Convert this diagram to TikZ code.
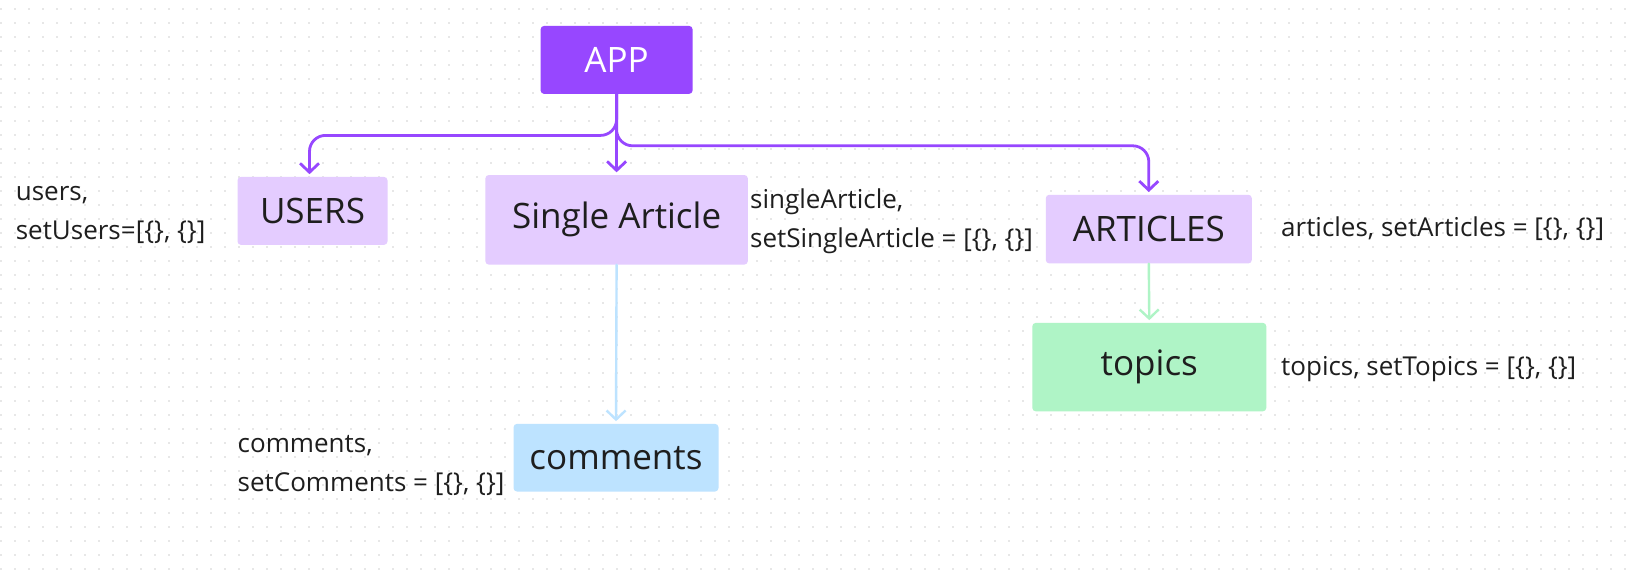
\documentclass[tikz,border=0pt]{standalone}
\usepackage{fontspec}
\setmainfont{Open Sans}
\usetikzlibrary{arrows.meta}
\definecolor{appc}{HTML}{9747FF}
\definecolor{lpurp}{HTML}{E4CCFF}
\definecolor{lgreen}{HTML}{AFF4C6}
\definecolor{lblue}{HTML}{BDE3FF}
\definecolor{txt}{HTML}{1E1E1E}
\definecolor{dotc}{HTML}{CFCFCF}
\begin{document}
\begin{tikzpicture}[x=1pt,y=-1pt,
  box/.style={rounded corners=3.5pt, inner sep=0pt, text=txt, font=\fontsize{35}{38}\selectfont},
  lbl/.style={anchor=west, text=txt, font=\fontsize{26}{39}\selectfont, align=left, inner sep=0pt},
  conn/.style={line width=2.8pt, line cap=round, line join=round, shorten >=2.5pt, -{Straight Barb[length=9pt,width=19pt]}}
]
\useasboundingbox (0,0) rectangle (1633,571);
\fill[white] (0,0) rectangle (1633,571);
\foreach \i in {0,...,116} {\foreach \j in {0,...,40} {\fill[dotc] (1+14*\i, 9+14*\j) circle (0.8);}}

\node[box, fill=appc, text=white, minimum width=152pt, minimum height=68pt] (app) at (616.6,59.9) {APP};
\node[box, fill=lpurp, minimum width=150pt, minimum height=68pt] (users) at (312.5,210.9) {USERS};
\node[box, fill=lpurp, minimum width=262.5pt, minimum height=89.6pt] (single) at (616.6,219.8) {Single Article};
\node[box, fill=lpurp, minimum width=206pt, minimum height=68.7pt] (articles) at (1148.8,229.1) {ARTICLES};
\node[box, fill=lgreen, minimum width=234pt, minimum height=88.5pt] (topics) at (1149.3,367.1) {topics};
\node[box, fill=lblue, minimum width=205pt, minimum height=67.7pt] (comments) at (616,457.7) {comments};

\node[lbl] (usersl) at (15.6,214.5) {users,\\setUsers=[\{\}, \{\}]};
\node[lbl] (singlel) at (750,220.8) {singleArticle,\\setSingleArticle = [\{\}, \{\}]};
\node[lbl] (articlesl) at (1281,229.1) {articles, setArticles = [\{\}, \{\}]};
\node[lbl] (topicsl) at (1281,368.7) {topics, setTopics = [\{\}, \{\}]};
\node[lbl] (commentsl) at (237.5,465.5) {comments,\\setComments = [\{\}, \{\}]};

\draw[conn, draw=appc, rounded corners=16pt] (app.south) -- (app.south |- 0,135.4) -| ([xshift=-3pt]users.north);
\draw[conn, draw=appc, rounded corners=16pt] (app.south) -- (app.south |- 0,145.8) -| (articles.north);
\draw[conn, draw=appc] (app.south) -- (single.north);
\draw[conn, draw=lblue, line width=2.4pt] (single.south) -- (comments.north);
\draw[conn, draw=lgreen, line width=2.4pt] (articles.south) -- (topics.north);
\end{tikzpicture}
\end{document}
